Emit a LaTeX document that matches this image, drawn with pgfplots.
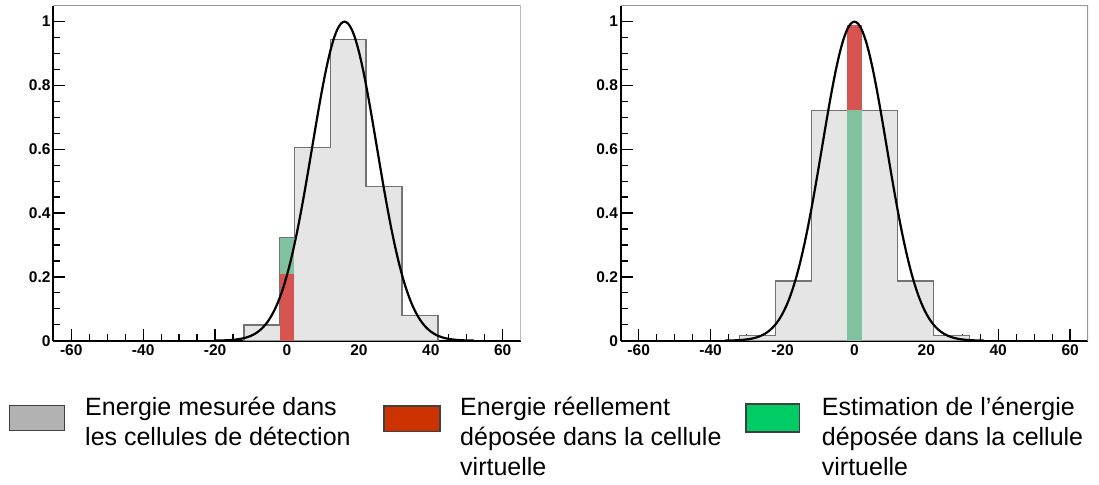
\documentclass[border=0pt]{standalone}
\usepackage{pgfplots}
\pgfplotsset{compat=1.18}
\usepackage{fontspec}
\setmainfont{Liberation Sans}
\definecolor{histfill}{RGB}{229,229,229}
\definecolor{histline}{RGB}{115,115,115}
\definecolor{barred}{RGB}{214,85,80}
\definecolor{bargreen}{RGB}{128,193,160}
\definecolor{legray}{RGB}{178,178,178}
\definecolor{legred}{RGB}{204,51,0}
\definecolor{leggreen}{RGB}{0,204,102}
\definecolor{framegray}{RGB}{150,150,150}
\pgfplotsset{
  rootstyle/.style={
    scale only axis, width=467.4pt, height=335pt,
    xmin=-65, xmax=65, ymin=0, ymax=1.05,
    axis lines*=left,
    axis line style={line width=2.2pt, black, -},
    tick align=inside,
    major tick length=12pt, minor tick length=7pt,
    every tick/.style={black, line width=1.3pt},
    xtick={-60,-40,-20,0,20,40,60},
    xticklabels={-60,-40,-20,0,20,40,60},
    ytick={0,0.2,0.4,0.6,0.8,1},
    yticklabels={0,0.2,0.4,0.6,0.8,1},
    minor x tick num=3, minor y tick num=3,
    tick label style={font=\fontsize{15.5}{18}\selectfont\bfseries, inner sep=0pt},
    yticklabel style={anchor=east, xshift=-2.6pt},
    xticklabel style={anchor=north, yshift=-4pt},
  }
}
\begin{document}
\begin{tikzpicture}
\useasboundingbox (0,0) rectangle (1099pt,-484pt);
% ---------------- left panel ----------------
\begin{axis}[rootstyle, at={(53.3pt,-340.7pt)}, anchor=south west]
\addplot[fill=histfill, draw=none] coordinates {(-12,0) (-12,0.049) (-2,0.049) (-2,0.324) (2,0.324) (2,0.606) (12,0.606) (12,0.943) (22,0.943) (22,0.484) (32,0.484) (32,0.080) (42,0.080) (42,0)};
\addplot[fill=barred, draw=none] coordinates {(-2,0) (-2,0.209) (2,0.209) (2,0)};
\addplot[fill=bargreen, draw=none] coordinates {(-2,0.209) (-2,0.324) (2,0.324) (2,0.209)};
\addplot[draw=histline, line width=1.3pt] coordinates {(-12,0) (-12,0.049) (-2,0.049) (-2,0.324) (2,0.324) (2,0.606) (12,0.606) (12,0.943) (22,0.943) (22,0.484) (32,0.484) (32,0.080) (42,0.080) (42,0)};
\addplot[black, line width=2.2pt, smooth] coordinates {
(-20,0.0003) (-18,0.0008) (-16,0.0018) (-15,0.0027) (-14,0.0039) (-13,0.0056) (-12,0.0079) (-11,0.0111) (-10,0.0154) (-9,0.0211) (-8,0.0286) (-7,0.0382) (-6,0.0504) (-5,0.0657) (-4,0.0847) (-3,0.1077) (-2,0.1353) (-1,0.1680) (0,0.2059) (1,0.2494) (2,0.2982) (3,0.3523) (4,0.4111) (5,0.4738) (6,0.5394) (7,0.6065) (8,0.6736) (9,0.7390) (10,0.8007) (11,0.8570) (12,0.9060) (13,0.9460) (14,0.9756) (15,0.9938) (16,1.0000) (17,0.9938) (18,0.9756) (19,0.9460) (20,0.9060) (21,0.8570) (22,0.8007) (23,0.7390) (24,0.6736) (25,0.6065) (26,0.5394) (27,0.4738) (28,0.4111) (29,0.3523) (30,0.2982) (31,0.2494) (32,0.2059) (33,0.1680) (34,0.1353) (35,0.1077) (36,0.0847) (37,0.0657) (38,0.0504) (39,0.0382) (40,0.0286) (41,0.0211) (42,0.0154) (43,0.0111) (44,0.0079) (45,0.0056) (46,0.0039) (47,0.0027) (48,0.0018) (50,0.0008) (52,0.0003)};
\draw[framegray, line width=1.6pt] (rel axis cs:0,1) -- (rel axis cs:1,1) -- (rel axis cs:1,0);
\end{axis}
% ---------------- right panel ----------------
\begin{axis}[rootstyle, at={(620.7pt,-340.7pt)}, anchor=south west]
\addplot[fill=histfill, draw=none] coordinates {(-32,0) (-32,0.016) (-22,0.016) (-22,0.187) (-12,0.187) (-12,0.722) (12,0.722) (12,0.187) (22,0.187) (22,0.016) (32,0.016) (32,0)};
\addplot[draw=histline, line width=1.3pt] coordinates {(-32,0) (-32,0.016) (-22,0.016) (-22,0.187) (-12,0.187) (-12,0.722) (12,0.722) (12,0.187) (22,0.187) (22,0.016) (32,0.016) (32,0)};
\addplot[fill=bargreen, draw=none] coordinates {(-2,0) (-2,0.722) (2,0.722) (2,0)};
\addplot[fill=barred, draw=none] coordinates {(-2,0.722) (-2,0.99) (2,0.99) (2,0.722)};
\addplot[black, line width=2.2pt, smooth] coordinates {
(-36,0.0003) (-34,0.0008) (-32,0.0018) (-31,0.0027) (-30,0.0039) (-29,0.0056) (-28,0.0079) (-27,0.0111) (-26,0.0154) (-25,0.0211) (-24,0.0286) (-23,0.0382) (-22,0.0504) (-21,0.0657) (-20,0.0847) (-19,0.1077) (-18,0.1353) (-17,0.1680) (-16,0.2059) (-15,0.2494) (-14,0.2982) (-13,0.3523) (-12,0.4111) (-11,0.4738) (-10,0.5394) (-9,0.6065) (-8,0.6736) (-7,0.7390) (-6,0.8007) (-5,0.8570) (-4,0.9060) (-3,0.9460) (-2,0.9756) (-1,0.9938) (0,1.0000) (1,0.9938) (2,0.9756) (3,0.9460) (4,0.9060) (5,0.8570) (6,0.8007) (7,0.7390) (8,0.6736) (9,0.6065) (10,0.5394) (11,0.4738) (12,0.4111) (13,0.3523) (14,0.2982) (15,0.2494) (16,0.2059) (17,0.1680) (18,0.1353) (19,0.1077) (20,0.0847) (21,0.0657) (22,0.0504) (23,0.0382) (24,0.0286) (25,0.0211) (26,0.0154) (27,0.0111) (28,0.0079) (29,0.0056) (30,0.0039) (31,0.0027) (32,0.0018) (34,0.0008) (36,0.0003)};
\draw[framegray, line width=1.6pt] (rel axis cs:0,1) -- (rel axis cs:1,1) -- (rel axis cs:1,0);
\end{axis}
% ---------------- legend ----------------
\begin{scope}[every node/.style={inner sep=0pt, anchor=base west, font=\fontsize{25}{30}\selectfont}]
\draw[fill=legray, draw=black!75, line width=1.3pt] (9.3pt,-405.7pt) rectangle (64.3pt,-430.7pt);
\node at (85pt,-415.5pt) {Energie mesurée dans};
\node at (85pt,-445.5pt) {les cellules de détection};
\draw[fill=legred, draw=black!75, line width=1.3pt] (384pt,-406pt) rectangle (440pt,-431.5pt);
\node at (460pt,-415.5pt) {Energie réellement};
\node at (460pt,-445.5pt) {déposée dans la cellule};
\node at (460pt,-475.5pt) {virtuelle};
\draw[fill=leggreen, draw=black!75, line width=1.3pt] (746pt,-404pt) rectangle (799.3pt,-432pt);
\node at (821.7pt,-415.5pt) {Estimation de l’énergie};
\node at (821.7pt,-445.5pt) {déposée dans la cellule};
\node at (821.7pt,-475.5pt) {virtuelle};
\end{scope}
\end{tikzpicture}
\end{document}
